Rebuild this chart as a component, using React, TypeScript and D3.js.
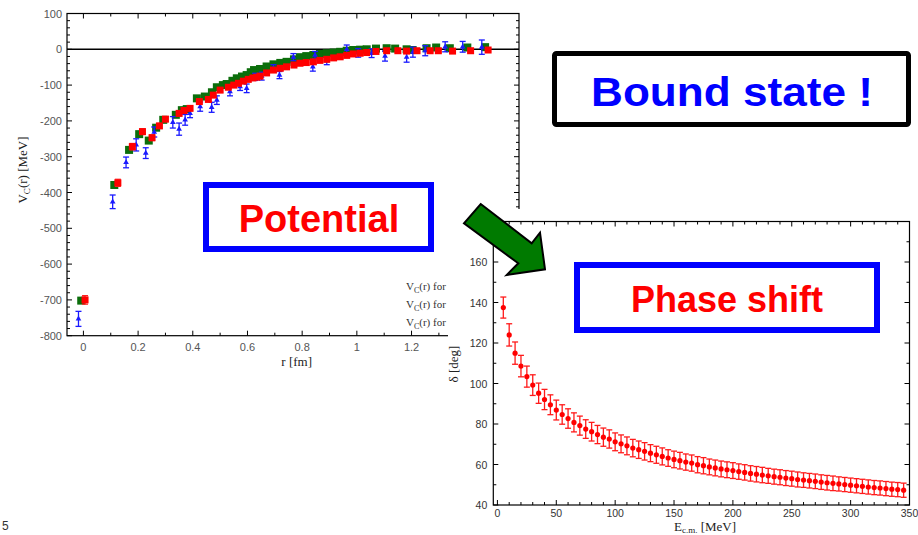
import React from "react";
import * as d3 from "d3";

// ---------- Potential chart data ----------
const greenR = [-0.008,0.113,0.167,0.204,0.239,0.266,0.292,0.338,0.36,0.378,0.415,0.444,0.47,0.488,0.51,0.524,0.545,0.561,0.58,0.597,0.612,0.624,0.646,0.67,0.695,0.72,0.743,0.77,0.792,0.815,0.841,0.865,0.89,0.915,0.939,0.963,0.987,1.012,1.036,1.07,1.109,1.14,1.182,1.204,1.255,1.29,1.34,1.404,1.469];
const greenV = [-702,-379,-281,-237,-255,-219,-197,-183,-170,-167,-137,-132,-120,-106,-100,-97,-88,-81,-76,-72,-64,-58,-55,-48,-42,-38,-35,-28,-22,-19,-16,-13,-11,-9,-7,-4,-2,-1,0,2,3,2,0,-2,3,5,3,5,6];

const redR = [0.006,0.126,0.179,0.216,0.251,0.278,0.3,0.35,0.368,0.39,0.424,0.457,0.475,0.5,0.53,0.55,0.567,0.585,0.603,0.62,0.634,0.646,0.67,0.695,0.72,0.743,0.77,0.792,0.815,0.841,0.865,0.89,0.915,0.939,0.963,0.987,1.012,1.036,1.07,1.109,1.15,1.182,1.22,1.268,1.298,1.35,1.416,1.48];
const redV = [-700,-373,-272,-230,-247,-214,-195,-179,-171,-165,-146,-140,-128,-114,-106,-100,-95,-89,-84,-80,-78,-75,-66,-58,-53,-49,-44,-39,-37,-35,-31,-28,-24,-21,-17,-13,-11,-9,-6,-4,-4,-5,-4,-4,-4,-5,-4,-2];
const redErr = [12,10,9,8,8,7,7,7,6,6,6,6,6,6,5,5,5,5,5,5,5,5,5,5,5,5,5,5,5,5,4,4,4,4,4,4,4,4,4,4,4,4,4,4,4,4,4,4];

const blueR = [-0.018,0.107,0.156,0.193,0.228,0.259,0.327,0.35,0.372,0.39,0.427,0.469,0.488,0.536,0.573,0.597,0.628,0.652,0.695,0.717,0.768,0.839,0.847,0.89,0.963,1.005,1.054,1.103,1.182,1.205,1.25,1.323,1.387,1.457];
const blueV = [-753,-426,-316,-267,-290,-231,-204,-223,-197,-179,-160,-162,-142,-118,-104,-109,-77,-75,-53,-72,-22,-49,-16,-32,0,-10,-11,-19,-22,-8,-4,7,7,6];
const blueErr = [21,19,15,17,15,14,16,17,15,12,13,14,12,12,11,12,10,11,10,10,10,12,10,11,12,12,12,14,14,14,14,14,15,20];

const vMajorTicks = [-800,-700,-600,-500,-400,-300,-200,-100,0,100];
const rMajorTicks = [0,0.2,0.4,0.6,0.8,1,1.2,1.4];
const legendLines = ["for", "for", "for"];

// ---------- Phase shift data ----------
const phaseE = [5,10,15,20,25,30,35,40,45,50,55,60,65,70,75,80,85,90,95,100,105,110,115,120,125,130,135,140,145,150,155,160,165,170,175,180,185,190,195,200,205,210,215,220,225,230,235,240,245,250,255,260,265,270,275,280,285,290,295,300,305,310,315,320,325,330,335,340,345];
const phaseD = [137.5,124,115,108.6,103.4,99.2,95.2,92.1,89.5,86.9,84.7,82.7,80.8,79.2,77.5,76.2,74.8,73.5,72.6,71.2,70.2,69.2,68.1,67.3,66.5,65.6,64.8,64.0,63.2,62.5,61.9,61.2,60.7,59.9,59.4,58.8,58.3,57.8,57.4,57.0,56.5,56.1,55.6,55.2,54.8,54.4,54.0,53.7,53.3,53.0,52.6,52.3,52.0,51.7,51.3,51.0,50.7,50.4,50.1,49.8,49.5,49.2,48.9,48.6,48.4,48.1,47.8,47.6,47.3];
const phaseErr = [5.2,5.5,5.5,5.3,5.2,5.1,5.0,5.0,4.9,4.9,4.8,4.8,4.7,4.7,4.6,4.6,4.5,4.5,4.5,4.4,4.4,4.4,4.3,4.3,4.3,4.2,4.2,4.2,4.1,4.1,4.1,4.0,4.0,4.0,4.0,3.9,3.9,3.9,3.9,3.9,3.8,3.8,3.8,3.8,3.8,3.7,3.7,3.7,3.7,3.7,3.7,3.6,3.6,3.6,3.6,3.6,3.6,3.5,3.5,3.5,3.5,3.5,3.5,3.5,3.5,3.5,3.5,3.5,3.5];
const eMajorTicks = [0,50,100,150,200,250,300,350];
const dMajorTicks = [40,60,80,100,120,140,160];

const SANS = "'Liberation Sans', Arial, Helvetica, sans-serif";
const SERIF = "'Liberation Serif', 'Times New Roman', serif";

export default function App() {
  // Potential chart scales
  const L = { x0: 67, x1: 519, y0: 13.5, y1: 335.7 };
  const rS = d3.scaleLinear().domain([-0.06, 1.593]).range([L.x0, L.x1]);
  const vS = d3.scaleLinear().domain([-800, 100]).range([L.y1, L.y0]);
  const vMinor = d3.range(-800, 101, 20);
  const rMinor = d3.range(0, 1.51, 0.1);

  // Phase chart scales
  const P = { x0: 493.3, x1: 909.5, y0: 221.5, y1: 505 };
  const eS = d3.scaleLinear().domain([-3.5, 350]).range([P.x0, P.x1]);
  const dS = d3.scaleLinear().domain([40, 180]).range([P.y1, P.y0]);
  const eMinor = d3.range(0, 351, 10);
  const dMinor = d3.range(40, 181, 10);

  const tri = d3.symbol().type(d3.symbolTriangle).size(14)();

  return (
    <svg width={918} height={535} style={{ position: "absolute", left: 0, top: 0, background: "#fff" }}>
      <rect x={0} y={0} width={918} height={535} fill="#fff" />

      {/* ===== Potential chart ===== */}
      <g>
        {vMinor.map((v) => {
          const major = v % 100 === 0;
          const len = major ? 5 : 3;
          const y = vS(v);
          return (
            <g key={"vt" + v}>
              <line x1={L.x0} x2={L.x0 + len} y1={y} y2={y} stroke="#000" strokeWidth={1} />
              <line x1={L.x1} x2={L.x1 - len} y1={y} y2={y} stroke="#000" strokeWidth={1} />
            </g>
          );
        })}
        {rMinor.map((r, i) => {
          const major = i % 2 === 0;
          const len = major ? 5 : 3;
          const x = rS(r);
          return (
            <g key={"rt" + i}>
              <line x1={x} x2={x} y1={L.y1} y2={L.y1 - len} stroke="#000" strokeWidth={1} />
              <line x1={x} x2={x} y1={L.y0} y2={L.y0 + len} stroke="#000" strokeWidth={1} />
            </g>
          );
        })}
        <rect x={L.x0} y={L.y0} width={L.x1 - L.x0} height={L.y1 - L.y0} fill="none" stroke="#000" strokeWidth={1.2} />
        <line x1={L.x0} x2={L.x1} y1={vS(0)} y2={vS(0)} stroke="#000" strokeWidth={1.5} />

        {vMajorTicks.map((v) => (
          <text key={"vl" + v} x={L.x0 - 5} y={vS(v) + 4} textAnchor="end" fontFamily={SANS} fontSize={11} fill="#555">
            {v}
          </text>
        ))}
        {rMajorTicks.map((r) => (
          <text key={"rl" + r} x={rS(r)} y={L.y1 + 15} textAnchor="middle" fontFamily={SANS} fontSize={11} fill="#555">
            {r}
          </text>
        ))}
        <text x={rS(0.78)} y={366} textAnchor="middle" fontFamily={SERIF} fontSize={13} fill="#222">r [fm]</text>
        <text transform={`translate(27,${170}) rotate(-90)`} textAnchor="middle" fontFamily={SERIF} fontSize={13} fill="#222">
          V<tspan dy={3} fontSize={9}>C</tspan><tspan dy={-3}>(r) [MeV]</tspan>
        </text>

        {/* legend */}
        {legendLines.map((t, i) => (
          <text key={"lg" + i} x={406} y={290 + i * 17.8} fontFamily={SERIF} fontSize={11} fill="#333">
            V<tspan dy={3} fontSize={8}>C</tspan><tspan dy={-3}>(r) {t}</tspan>
          </text>
        ))}

        {/* green series */}
        {greenR.map((r, i) => (
          <rect key={"g" + i} x={rS(r) - 4} y={vS(greenV[i]) - 4} width={8} height={8} fill="#0b6e0b" />
        ))}
        {/* blue series */}
        {blueR.map((r, i) => {
          const x = rS(r);
          const yt = vS(blueV[i] + blueErr[i]);
          const yb = vS(blueV[i] - blueErr[i]);
          return (
            <g key={"b" + i} stroke="#1a1aff" strokeWidth={1.3}>
              <line x1={x} x2={x} y1={yt} y2={yb} />
              <line x1={x - 3} x2={x + 3} y1={yt} y2={yt} />
              <line x1={x - 3} x2={x + 3} y1={yb} y2={yb} />
              <path d={tri} transform={`translate(${x},${vS(blueV[i])})`} fill="#1a1aff" stroke="none" />
            </g>
          );
        })}
        {/* red series */}
        {redR.map((r, i) => {
          const x = rS(r);
          const yt = vS(redV[i] + redErr[i]);
          const yb = vS(redV[i] - redErr[i]);
          return (
            <g key={"r" + i}>
              <line x1={x} x2={x} y1={yt} y2={yb} stroke="#ff2020" strokeWidth={1.2} />
              <line x1={x - 3} x2={x + 3} y1={yt} y2={yt} stroke="#ff2020" strokeWidth={1.2} />
              <line x1={x - 3} x2={x + 3} y1={yb} y2={yb} stroke="#ff2020" strokeWidth={1.2} />
              <rect x={x - 3.5} y={vS(redV[i]) - 3.5} width={7} height={7} fill="#ff0000" />
            </g>
          );
        })}
      </g>

      {/* Potential box */}
      <rect x={206} y={185} width={225} height={64} fill="#fff" stroke="#0000ff" strokeWidth={6} />
      <text x={319} y={232} textAnchor="middle" fontFamily={SANS} fontWeight="bold" fontSize={38} fill="#ff0000">Potential</text>

      {/* ===== Phase shift panel ===== */}
      <rect x={448} y={209} width={470} height={326} fill="#fff" />
      <g>
        {dMinor.map((v) => {
          const major = v % 20 === 0;
          const len = major ? 5 : 3;
          const y = dS(v);
          return (
            <g key={"dt" + v}>
              <line x1={P.x0} x2={P.x0 + len} y1={y} y2={y} stroke="#000" strokeWidth={1} />
              <line x1={P.x1} x2={P.x1 - len} y1={y} y2={y} stroke="#000" strokeWidth={1} />
            </g>
          );
        })}
        {eMinor.map((e) => {
          const major = e % 50 === 0;
          const len = major ? 5 : 3;
          const x = eS(e);
          return (
            <g key={"et" + e}>
              <line x1={x} x2={x} y1={P.y1} y2={P.y1 - len} stroke="#000" strokeWidth={1} />
              <line x1={x} x2={x} y1={P.y0} y2={P.y0 + len} stroke="#000" strokeWidth={1} />
            </g>
          );
        })}
        <rect x={P.x0} y={P.y0} width={P.x1 - P.x0} height={P.y1 - P.y0} fill="none" stroke="#000" strokeWidth={1.2} />

        {dMajorTicks.map((v) => (
          <text key={"dl" + v} x={P.x0 - 6} y={dS(v) + 4} textAnchor="end" fontFamily={SANS} fontSize={10.5} fill="#333">
            {v}
          </text>
        ))}
        {eMajorTicks.map((e) => (
          <text key={"el" + e} x={eS(e)} y={P.y1 + 12} textAnchor="middle" fontFamily={SANS} fontSize={10.5} fill="#333">
            {e}
          </text>
        ))}
        <text x={705} y={531} textAnchor="middle" fontFamily={SERIF} fontSize={13} fill="#222">
          E<tspan dy={2} fontSize={9}>c.m.</tspan><tspan dy={-2}> [MeV]</tspan>
        </text>
        <text transform={`translate(458,${364}) rotate(-90)`} textAnchor="middle" fontFamily={SERIF} fontSize={13} fill="#222">
          δ [deg]
        </text>

        {phaseE.map((e, i) => {
          const x = eS(e);
          const yt = dS(phaseD[i] + phaseErr[i]);
          const yb = dS(phaseD[i] - phaseErr[i]);
          return (
            <g key={"p" + i} stroke="#ff1a1a" strokeWidth={1.3}>
              <line x1={x} x2={x} y1={yt} y2={yb} />
              <line x1={x - 3} x2={x + 3} y1={yt} y2={yt} />
              <line x1={x - 3} x2={x + 3} y1={yb} y2={yb} />
              <circle cx={x} cy={dS(phaseD[i])} r={2.6} fill="#ff0000" stroke="none" />
            </g>
          );
        })}
      </g>

      {/* Phase shift box */}
      <rect x={577} y={265} width={300} height={65} fill="#fff" stroke="#0000ff" strokeWidth={6} />
      <text x={727} y={312} textAnchor="middle" fontFamily={SANS} fontWeight="bold" fontSize={36} fill="#ff0000">Phase shift</text>

      {/* Green arrow */}
      <polygon
        points="480.7,204 531.7,243.3 540,232.7 545,269.3 506.7,275 518.3,263.3 464,223.3"
        fill="#007a00"
        stroke="#000"
        strokeWidth={2}
        strokeLinejoin="miter"
      />

      {/* Bound state box */}
      <rect x={554.5} y={53.5} width={354} height={71} rx={2} fill="#fff" stroke="#000" strokeWidth={5} />
      <text x={732} y={106} textAnchor="middle" fontFamily={SANS} fontWeight="bold" fontSize={41} fill="#0000ff" textLength={282} lengthAdjust="spacingAndGlyphs">
        Bound state !
      </text>

      {/* page number */}
      <text x={2} y={530} fontFamily={SANS} fontSize={12} fill="#333">5</text>
    </svg>
  );
}
